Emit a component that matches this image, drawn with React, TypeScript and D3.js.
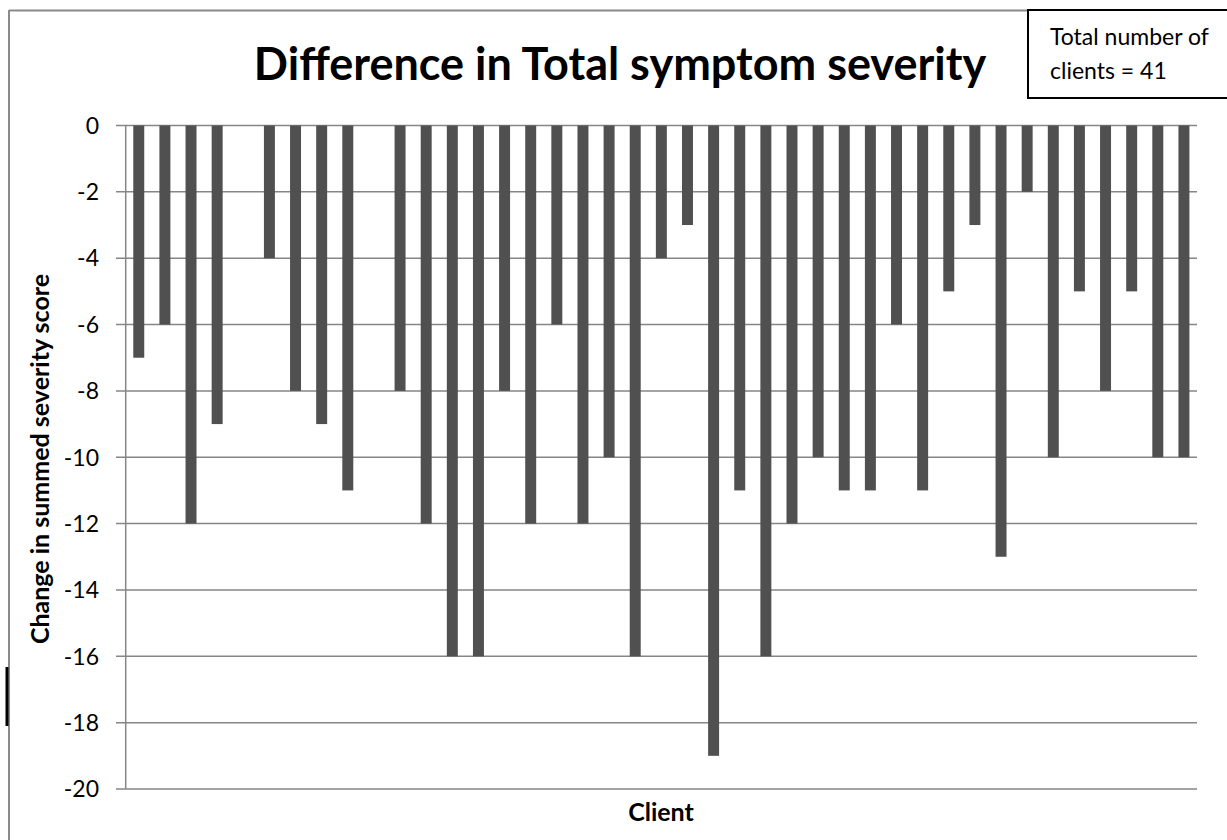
import React from "react";
import * as d3 from "d3";

// Change in summed severity score per client (41 clients)
const clients: string[] = Array.from({ length: 41 }, (_, i) => `C${i + 1}`);
const changes: number[] = [
  -7, -6, -12, -9, 0, -4, -8, -9, -11, 0,
  -8, -12, -16, -16, -8, -12, -6, -12, -10, -16,
  -4, -3, -19, -11, -16, -12, -10, -11, -11, -6,
  -11, -5, -3, -13, -2, -10, -5, -8, -5, -10,
  -10,
];
const yTicks: number[] = [0, -2, -4, -6, -8, -10, -12, -14, -16, -18, -20];

const titleText = "Difference in Total symptom severity";
const yLabel = "Change in summed severity score";
const xLabel = "Client";
const noteLines: string[] = ["Total number of", "clients = 41"];

const W = 1227;
const H = 840;
const FONT = "Lato, 'Open Sans', sans-serif";

export default function App() {
  const left = 125.7;
  const right = 1197;
  const top = 125.5;
  const bottom = 789;

  const x = d3
    .scaleBand<string>()
    .domain(clients)
    .range([left, right])
    .paddingInner(0.58)
    .paddingOuter(0.29);
  const y = d3.scaleLinear().domain([-20, 0]).range([bottom, top]);

  const gridColor = "#868686";

  return (
    <svg
      width={W}
      height={H}
      style={{ position: "absolute", left: 0, top: 0, background: "#fff" }}
      fontFamily={FONT}
    >
      {/* outer frame (top and left edges) */}
      <line x1={9} x2={1030} y1={10.5} y2={10.5} stroke="#8a8a8a" strokeWidth={2} />
      <line x1={9} x2={9} y1={10} y2={H} stroke="#8a8a8a" strokeWidth={2} />
      <line x1={7} x2={7} y1={667} y2={726} stroke="#000" strokeWidth={3} />

      {/* title */}
      <text
        x={620}
        y={80}
        textAnchor="middle"
        fontWeight="bold"
        fontSize={45}
        fill="#000"
      >
        {titleText}
      </text>

      {/* note box */}
      <rect x={1028} y={10} width={230} height={88} fill="#fff" stroke="#000" strokeWidth={2} />
      {noteLines.map((t, i) => (
        <text key={t} x={1050} y={45 + i * 34} fontSize={23} fill="#000">
          {t}
        </text>
      ))}

      {/* gridlines and y ticks */}
      {yTicks.map((t) => (
        <g key={t}>
          <line
            x1={116}
            x2={right}
            y1={y(t)}
            y2={y(t)}
            stroke={gridColor}
            strokeWidth={1.5}
          />
          <text
            x={99}
            y={y(t)}
            dy="0.36em"
            textAnchor="end"
            fontSize={23}
            fill="#000"
          >
            {t}
          </text>
        </g>
      ))}

      {/* y axis line */}
      <line x1={left} x2={left} y1={top} y2={bottom} stroke={gridColor} strokeWidth={1.5} />

      {/* bars */}
      {clients.map((c, i) => {
        const v = changes[i];
        const y0 = y(0);
        const y1 = y(v);
        return (
          <rect
            key={c}
            x={x(c)}
            y={Math.min(y0, y1)}
            width={x.bandwidth()}
            height={Math.abs(y1 - y0)}
            fill="#505050"
          />
        );
      })}

      {/* axis titles */}
      <text
        transform={`translate(49, 459) rotate(-90)`}
        textAnchor="middle"
        fontWeight="bold"
        fontSize={25}
        fill="#000"
      >
        {yLabel}
      </text>
      <text
        x={661}
        y={821}
        textAnchor="middle"
        fontWeight="bold"
        fontSize={25}
        fill="#000"
      >
        {xLabel}
      </text>
    </svg>
  );
}
